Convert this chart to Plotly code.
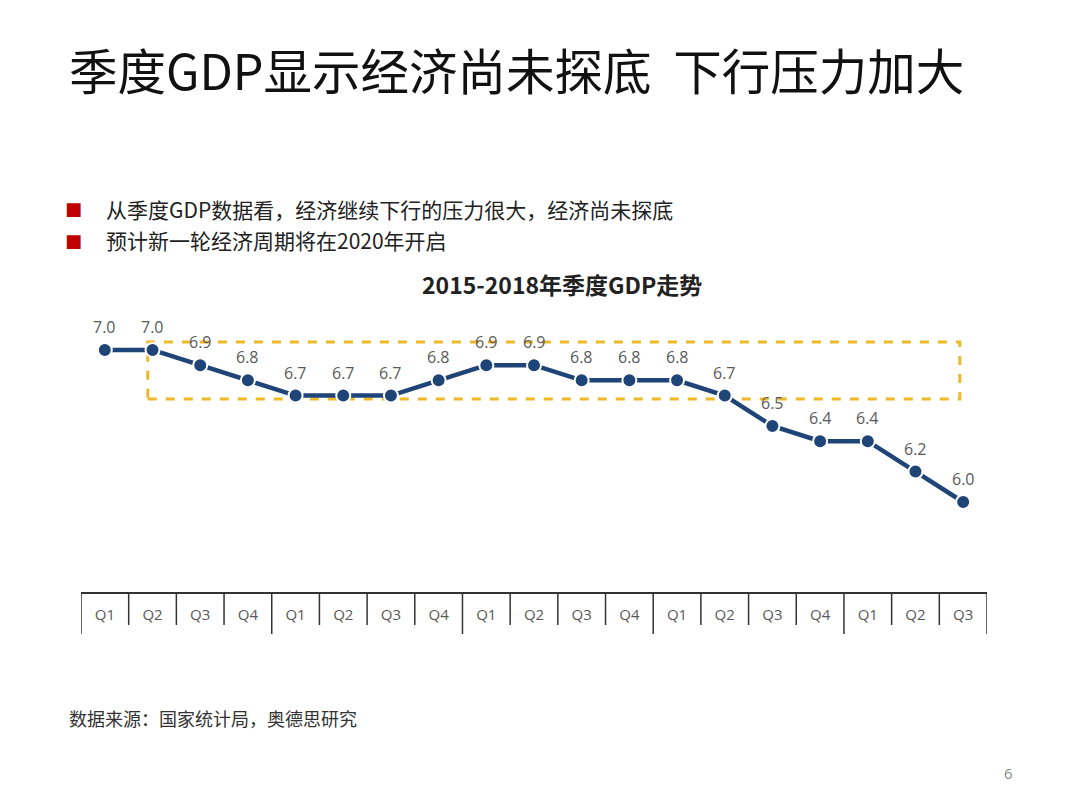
import plotly.graph_objects as go

quarters = ["Q1", "Q2", "Q3", "Q4"] * 4 + ["Q1", "Q2", "Q3"]
years = [2015] * 4 + [2016] * 4 + [2017] * 4 + [2018] * 4 + [2019] * 3
gdp = [7.0, 7.0, 6.9, 6.8, 6.7, 6.7, 6.7, 6.8, 6.9, 6.9, 6.8, 6.8, 6.8, 6.7, 6.5, 6.4, 6.4, 6.2, 6.0]

title = "季度GDP显示经济尚未探底  下行压力加大"
bullets = ["从季度GDP数据看，经济继续下行的压力很大，经济尚未探底", "预计新一轮经济周期将在2020年开启"]
chart_title = "2015-2018年季度GDP走势"
source = "数据来源：国家统计局，奥德思研究"
page_no = "6"

NAVY = "#1F4478"
GOLD = "#EDB926"
GREY = "#595959"
CJK = "Noto Sans CJK SC, Microsoft YaHei, sans-serif"
LAT = "Open Sans, sans-serif"

idx = list(range(len(gdp)))
n = len(gdp)
fig = go.Figure()
fig.add_trace(go.Scatter(
    x=idx, y=gdp, mode="lines+markers",
    line=dict(color=NAVY, width=4.5),
    marker=dict(size=14, color=NAVY, line=dict(color="white", width=2)),
    cliponaxis=False, hoverinfo="skip", showlegend=False,
))

# data labels
for xi, v in zip(idx, gdp):
    fig.add_annotation(x=xi, y=v, xref="x", yref="y", text=f"{v:.1f}", showarrow=False,
                       yshift=23, font=dict(size=16, color=GREY, family=LAT))

# highlight box (dashed)
fig.add_shape(type="rect", xref="x", yref="y", x0=0.9, x1=17.93, y0=6.678, y1=7.053,
              line=dict(color=GOLD, width=3, dash="dash"), layer="below")

# table dividers
for k in range(n + 1):
    is_year = k == 0 or k == n or years[k] != years[k - 1]
    fig.add_shape(type="line", xref="x", yref="paper", x0=k - 0.5, x1=k - 0.5,
                  y0=0, y1=-0.1544 if is_year else -0.1213,
                  line=dict(color="#333333", width=1.5))

fig.update_layout(
    width=1080, height=810, plot_bgcolor="white", paper_bgcolor="white",
    margin=dict(l=73, r=101, t=312, b=226),
    xaxis=dict(range=[-0.5, n - 0.5], tickvals=idx, ticktext=quarters, showgrid=False,
               zeroline=False, showline=True, linecolor="#333333", linewidth=1.5,
               ticks="", tickfont=dict(size=15, color=GREY, family=LAT),
               ticklabelstandoff=8, fixedrange=True),
    yaxis=dict(range=[5.408, 7.197], visible=False, fixedrange=True),
    font=dict(family=CJK),
)


def px_to_paper_x(px):
    return (px - 81) / 906


def px_to_paper_y(py):
    return (592 - py) / 272


fig.add_annotation(xref="paper", yref="paper", x=px_to_paper_x(67), xanchor="left",
                   y=px_to_paper_y(69), yanchor="middle", text=title, showarrow=False,
                   font=dict(size=48.5, color="#111111", family=CJK))
for i, b in enumerate(bullets):
    yy = 209 + i * 31
    fig.add_annotation(xref="paper", yref="paper", x=px_to_paper_x(73), xanchor="center",
                       y=px_to_paper_y(yy), yanchor="middle", text="■", showarrow=False,
                       font=dict(size=18, color="#C00000", family="DejaVu Sans"))
    fig.add_annotation(xref="paper", yref="paper", x=px_to_paper_x(104), xanchor="left",
                       y=px_to_paper_y(yy), yanchor="middle", text=b, showarrow=False,
                       font=dict(size=21, color="#222222", family=CJK))
fig.add_annotation(xref="paper", yref="paper", x=px_to_paper_x(562), xanchor="center",
                   y=px_to_paper_y(284), yanchor="middle", text=f"<b>{chart_title}</b>",
                   showarrow=False, font=dict(size=23, color="#222222", family=CJK))
fig.add_annotation(xref="paper", yref="paper", x=px_to_paper_x(67), xanchor="left",
                   y=px_to_paper_y(718), yanchor="middle", text=source, showarrow=False,
                   font=dict(size=18, color="#333333", family=CJK))
fig.add_annotation(xref="paper", yref="paper", x=px_to_paper_x(1009), xanchor="center",
                   y=px_to_paper_y(773), yanchor="middle", text=page_no, showarrow=False,
                   font=dict(size=15, color="#888888", family=LAT))

fig.write_html("out.html")
